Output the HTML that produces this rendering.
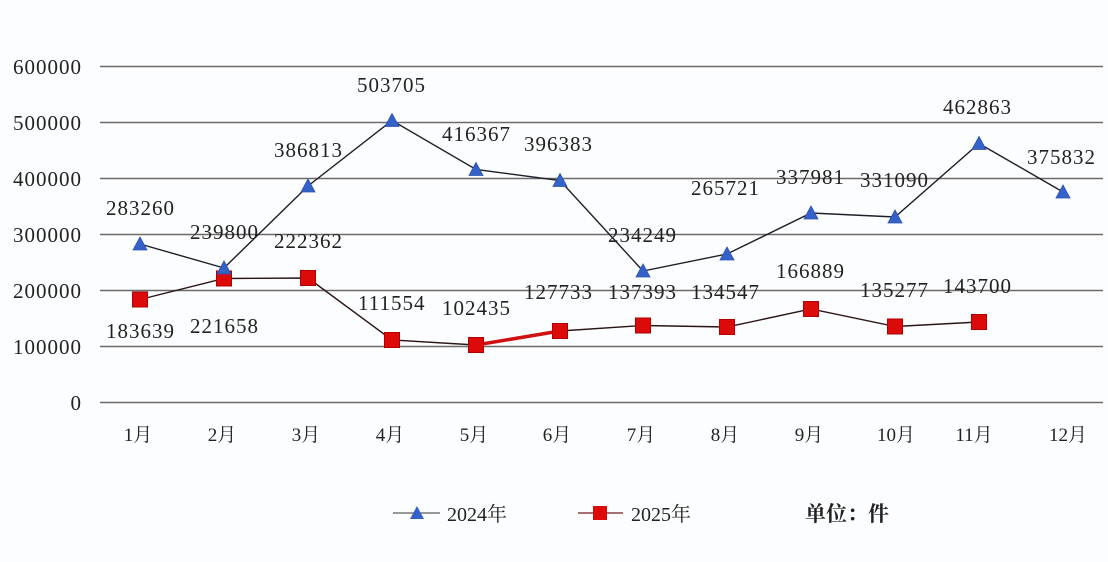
<!DOCTYPE html>
<html><head><meta charset="utf-8"><style>
html,body{margin:0;padding:0;background:#fcfdfe;}
svg{display:block;}
.t{font-family:"Liberation Serif","Noto Serif CJK SC",serif;fill:#222;font-size:21px;letter-spacing:1px;}
.m{font-family:"Liberation Serif","Noto Serif CJK SC",serif;fill:#222;font-size:19px;}
</style></head><body>
<svg width="1108" height="562" viewBox="0 0 1108 562" xmlns="http://www.w3.org/2000/svg">
<rect width="1108" height="562" fill="#fcfdfe"/>
<g stroke="#6b6b6b" stroke-width="1.6">
<line x1="100" y1="66.5" x2="1103" y2="66.5"/>
<line x1="100" y1="122.5" x2="1103" y2="122.5"/>
<line x1="100" y1="178.5" x2="1103" y2="178.5"/>
<line x1="100" y1="234.5" x2="1103" y2="234.5"/>
<line x1="100" y1="290.5" x2="1103" y2="290.5"/>
<line x1="100" y1="346.5" x2="1103" y2="346.5"/>
<line x1="100" y1="402.5" x2="1103" y2="402.5"/>
</g>
<g class="t" text-anchor="end">
<text x="82" y="74">600000</text>
<text x="82" y="130">500000</text>
<text x="82" y="186">400000</text>
<text x="82" y="242">300000</text>
<text x="82" y="298">200000</text>
<text x="82" y="354">100000</text>
<text x="82" y="410">0</text>
</g>
<g class="m" text-anchor="middle">
<text x="138" y="441">1月</text>
<text x="222" y="441">2月</text>
<text x="306" y="441">3月</text>
<text x="390" y="441">4月</text>
<text x="474" y="441">5月</text>
<text x="557" y="441">6月</text>
<text x="641" y="441">7月</text>
<text x="725" y="441">8月</text>
<text x="809" y="441">9月</text>
<text x="896" y="441">10月</text>
<text x="974" y="441">11月</text>
<text x="1068" y="441">12月</text>
</g>
<!-- 2024 line -->
<polyline fill="none" stroke="#1e1e2a" stroke-width="1.4" points="140,244 224,268 308,186 392,120.5 476,169.5 560,180.5 643,271 727,254 811,213 895,217 979,143.5 1063,192"/>
<!-- 2025 line -->
<polyline fill="none" stroke="#2a1515" stroke-width="1.4" points="140,299.5 224,278.5 308,278 392,340 476,345 560,331 643,325.5 727,327 811,309 895,326.5 979,322"/>
<line x1="476" y1="345" x2="560" y2="331" stroke="#d01010" stroke-width="3.5"/>
<g fill="#dd0a0a" stroke="#b00000" stroke-width="1">
<rect x="132.5" y="292" width="15" height="15"/>
<rect x="216.5" y="271" width="15" height="15"/>
<rect x="300.5" y="270.5" width="15" height="15"/>
<rect x="384.5" y="332.5" width="15" height="15"/>
<rect x="468.5" y="337.5" width="15" height="15"/>
<rect x="552.5" y="323.5" width="15" height="15"/>
<rect x="635.5" y="318" width="15" height="15"/>
<rect x="719.5" y="319.5" width="15" height="15"/>
<rect x="803.5" y="301.5" width="15" height="15"/>
<rect x="887.5" y="319" width="15" height="15"/>
<rect x="971.5" y="314.5" width="15" height="15"/>
</g>
<g fill="#3562c8" stroke="#2a50b0" stroke-width="0.8">
<polygon points="140,237 147,250 133,250"/>
<polygon points="224,261 231,274 217,274"/>
<polygon points="308,179 315,192 301,192"/>
<polygon points="392,113.5 399,126.5 385,126.5"/>
<polygon points="476,162.5 483,175.5 469,175.5"/>
<polygon points="560,173.5 567,186.5 553,186.5"/>
<polygon points="643,264 650,277 636,277"/>
<polygon points="727,247 734,260 720,260"/>
<polygon points="811,206 818,219 804,219"/>
<polygon points="895,210 902,223 888,223"/>
<polygon points="979,136.5 986,149.5 972,149.5"/>
<polygon points="1063,185 1070,198 1056,198"/>
</g>
<g class="t">
<text x="106" y="215">283260</text>
<text x="190" y="239">239800</text>
<text x="274" y="157">386813</text>
<text x="357" y="92">503705</text>
<text x="442" y="141">416367</text>
<text x="524" y="151">396383</text>
<text x="608" y="242">234249</text>
<text x="691" y="195">265721</text>
<text x="776" y="184">337981</text>
<text x="860" y="187">331090</text>
<text x="943" y="114">462863</text>
<text x="1027" y="164">375832</text>
<text x="106" y="338">183639</text>
<text x="190" y="333">221658</text>
<text x="274" y="248">222362</text>
<text x="358" y="310">111554</text>
<text x="442" y="315">102435</text>
<text x="524" y="299">127733</text>
<text x="608" y="299">137393</text>
<text x="691" y="299">134547</text>
<text x="776" y="278">166889</text>
<text x="860" y="297">135277</text>
<text x="943" y="293">143700</text>
</g>
<!-- legend -->
<line x1="393" y1="513" x2="440" y2="513" stroke="#777" stroke-width="1.5"/>
<polygon points="417,506 424,519 410,519" fill="#3562c8"/>
<text class="m" x="447" y="521" style="font-size:20px">2024年</text>
<line x1="578" y1="513" x2="623" y2="513" stroke="#8a4040" stroke-width="1.5"/>
<rect x="593" y="506" width="14" height="14" fill="#dd0a0a"/>
<text class="m" x="631" y="521" style="font-size:20px">2025年</text>
<text x="805" y="521" style="font-family:'Noto Serif CJK SC','Noto Sans CJK SC',serif;font-weight:700;font-size:21px;fill:#222">单位：件</text>
</svg>
</body></html>
